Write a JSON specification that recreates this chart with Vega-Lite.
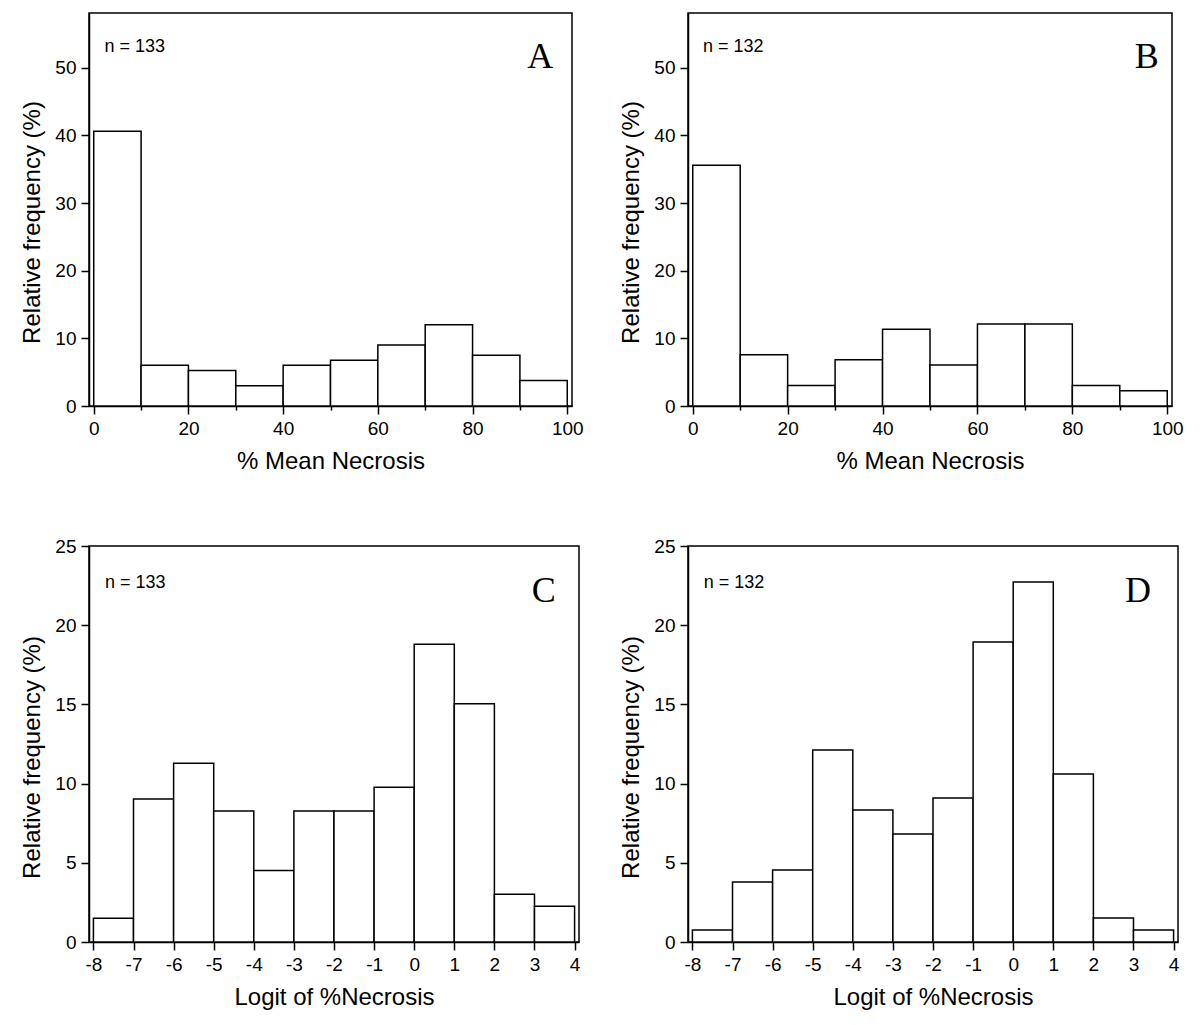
{
  "$schema": "https://vega.github.io/schema/vega-lite/v6.json",
  "background": "white",
  "padding": {"left": 20, "top": 12, "right": 5, "bottom": 5},
  "datasets": {
    "hist": [
      {"panel": "A", "lo": 0, "hi": 10, "freq": 40.60},
      {"panel": "A", "lo": 10, "hi": 20, "freq": 6.02},
      {"panel": "A", "lo": 20, "hi": 30, "freq": 5.26},
      {"panel": "A", "lo": 30, "hi": 40, "freq": 3.01},
      {"panel": "A", "lo": 40, "hi": 50, "freq": 6.02},
      {"panel": "A", "lo": 50, "hi": 60, "freq": 6.77},
      {"panel": "A", "lo": 60, "hi": 70, "freq": 9.02},
      {"panel": "A", "lo": 70, "hi": 80, "freq": 12.03},
      {"panel": "A", "lo": 80, "hi": 90, "freq": 7.52},
      {"panel": "A", "lo": 90, "hi": 100, "freq": 3.76},
      {"panel": "B", "lo": 0, "hi": 10, "freq": 35.61},
      {"panel": "B", "lo": 10, "hi": 20, "freq": 7.58},
      {"panel": "B", "lo": 20, "hi": 30, "freq": 3.03},
      {"panel": "B", "lo": 30, "hi": 40, "freq": 6.82},
      {"panel": "B", "lo": 40, "hi": 50, "freq": 11.36},
      {"panel": "B", "lo": 50, "hi": 60, "freq": 6.06},
      {"panel": "B", "lo": 60, "hi": 70, "freq": 12.12},
      {"panel": "B", "lo": 70, "hi": 80, "freq": 12.12},
      {"panel": "B", "lo": 80, "hi": 90, "freq": 3.03},
      {"panel": "B", "lo": 90, "hi": 100, "freq": 2.27},
      {"panel": "C", "lo": -8, "hi": -7, "freq": 1.50},
      {"panel": "C", "lo": -7, "hi": -6, "freq": 9.02},
      {"panel": "C", "lo": -6, "hi": -5, "freq": 11.28},
      {"panel": "C", "lo": -5, "hi": -4, "freq": 8.27},
      {"panel": "C", "lo": -4, "hi": -3, "freq": 4.51},
      {"panel": "C", "lo": -3, "hi": -2, "freq": 8.27},
      {"panel": "C", "lo": -2, "hi": -1, "freq": 8.27},
      {"panel": "C", "lo": -1, "hi": 0, "freq": 9.77},
      {"panel": "C", "lo": 0, "hi": 1, "freq": 18.80},
      {"panel": "C", "lo": 1, "hi": 2, "freq": 15.04},
      {"panel": "C", "lo": 2, "hi": 3, "freq": 3.01},
      {"panel": "C", "lo": 3, "hi": 4, "freq": 2.26},
      {"panel": "D", "lo": -8, "hi": -7, "freq": 0.76},
      {"panel": "D", "lo": -7, "hi": -6, "freq": 3.79},
      {"panel": "D", "lo": -6, "hi": -5, "freq": 4.55},
      {"panel": "D", "lo": -5, "hi": -4, "freq": 12.12},
      {"panel": "D", "lo": -4, "hi": -3, "freq": 8.33},
      {"panel": "D", "lo": -3, "hi": -2, "freq": 6.82},
      {"panel": "D", "lo": -2, "hi": -1, "freq": 9.09},
      {"panel": "D", "lo": -1, "hi": 0, "freq": 18.94},
      {"panel": "D", "lo": 0, "hi": 1, "freq": 22.73},
      {"panel": "D", "lo": 1, "hi": 2, "freq": 10.61},
      {"panel": "D", "lo": 2, "hi": 3, "freq": 1.52},
      {"panel": "D", "lo": 3, "hi": 4, "freq": 0.76}
    ],
    "notes": [
      {"panel": "A", "n": "n = 133", "letter": "A"},
      {"panel": "B", "n": "n = 132", "letter": "B"},
      {"panel": "C", "n": "n = 133", "letter": "C"},
      {"panel": "D", "n": "n = 132", "letter": "D"}
    ]
  },
  "columns": 2,
  "align": "none",
  "bounds": "flush",
  "spacing": {"column": 109, "row": 140},
  "concat": [
    {
      "width": 483, "height": 393,
      "layer": [
        {
          "data": {"name": "hist"},
          "transform": [{"filter": "datum.panel === 'A'"}],
          "mark": {"type": "rect", "fill": "white", "stroke": "black", "strokeWidth": 1.5},
          "encoding": {
            "x": {"field": "lo", "type": "quantitative", "scale": {"domain": [-1, 101], "nice": false, "zero": false},
              "axis": {"title": "% Mean Necrosis", "values": [0,10,20,30,40,50,60,70,80,90,100],
                "labelExpr": "datum.value % 20 === 0 ? '' + datum.value : ''",
                "tickSize": {"condition": {"test": "datum.value % 20 === 0", "value": 8}, "value": 4}}},
            "x2": {"field": "hi"},
            "y": {"field": "freq", "type": "quantitative", "scale": {"domain": [0, 58.1], "nice": false},
              "axis": {"title": "Relative frequency (%)", "values": [0,5,10,15,20,25,30,35,40,45,50,55],
                "labelExpr": "datum.value % 10 === 0 ? '' + datum.value : ''",
                "tickSize": {"condition": {"test": "datum.value % 10 === 0", "value": 8}, "value": 4},
                "titleY": 209}},
            "y2": {"datum": 0}
          }
        },
        {
          "data": {"name": "notes"},
          "transform": [{"filter": "datum.panel === 'A'"}],
          "mark": {"type": "text", "align": "left", "baseline": "alphabetic", "fontSize": 18, "font": "Liberation Sans", "color": "black"},
          "encoding": {
            "x": {"datum": 2.26, "type": "quantitative"},
            "y": {"datum": 52.4, "type": "quantitative"},
            "text": {"field": "n"}
          }
        },
        {
          "data": {"name": "notes"},
          "transform": [{"filter": "datum.panel === 'A'"}],
          "mark": {"type": "text", "align": "center", "baseline": "alphabetic", "fontSize": 36, "font": "Liberation Serif", "color": "black"},
          "encoding": {
            "x": {"datum": 94.3, "type": "quantitative"},
            "y": {"datum": 50, "type": "quantitative"},
            "text": {"field": "letter"}
          }
        }
      ]
    },
    {
      "width": 484, "height": 393,
      "layer": [
        {
          "data": {"name": "hist"},
          "transform": [{"filter": "datum.panel === 'B'"}],
          "mark": {"type": "rect", "fill": "white", "stroke": "black", "strokeWidth": 1.5},
          "encoding": {
            "x": {"field": "lo", "type": "quantitative", "scale": {"domain": [-1, 101], "nice": false, "zero": false},
              "axis": {"title": "% Mean Necrosis", "values": [0,10,20,30,40,50,60,70,80,90,100],
                "labelExpr": "datum.value % 20 === 0 ? '' + datum.value : ''",
                "tickSize": {"condition": {"test": "datum.value % 20 === 0", "value": 8}, "value": 4}}},
            "x2": {"field": "hi"},
            "y": {"field": "freq", "type": "quantitative", "scale": {"domain": [0, 58.1], "nice": false},
              "axis": {"title": "Relative frequency (%)", "values": [0,5,10,15,20,25,30,35,40,45,50,55],
                "labelExpr": "datum.value % 10 === 0 ? '' + datum.value : ''",
                "tickSize": {"condition": {"test": "datum.value % 10 === 0", "value": 8}, "value": 4},
                "titleY": 209}},
            "y2": {"datum": 0}
          }
        },
        {
          "data": {"name": "notes"},
          "transform": [{"filter": "datum.panel === 'B'"}],
          "mark": {"type": "text", "align": "left", "baseline": "alphabetic", "fontSize": 18, "font": "Liberation Sans", "color": "black"},
          "encoding": {
            "x": {"datum": 2.17, "type": "quantitative"},
            "y": {"datum": 52.4, "type": "quantitative"},
            "text": {"field": "n"}
          }
        },
        {
          "data": {"name": "notes"},
          "transform": [{"filter": "datum.panel === 'B'"}],
          "mark": {"type": "text", "align": "center", "baseline": "alphabetic", "fontSize": 36, "font": "Liberation Serif", "color": "black"},
          "encoding": {
            "x": {"datum": 95.7, "type": "quantitative"},
            "y": {"datum": 50, "type": "quantitative"},
            "text": {"field": "letter"}
          }
        }
      ]
    },
    {
      "width": 490, "height": 396,
      "layer": [
        {
          "data": {"name": "hist"},
          "transform": [{"filter": "datum.panel === 'C'"}],
          "mark": {"type": "rect", "fill": "white", "stroke": "black", "strokeWidth": 1.5},
          "encoding": {
            "x": {"field": "lo", "type": "quantitative", "scale": {"domain": [-8.11, 4.11], "nice": false, "zero": false},
              "axis": {"title": "Logit of %Necrosis", "values": [-8,-7.5,-7,-6.5,-6,-5.5,-5,-4.5,-4,-3.5,-3,-2.5,-2,-1.5,-1,-0.5,0,0.5,1,1.5,2,2.5,3,3.5,4],
                "labelExpr": "datum.value % 1 === 0 ? '' + datum.value : ''",
                "tickSize": {"condition": {"test": "datum.value % 1 === 0", "value": 8}, "value": 4}}},
            "x2": {"field": "hi"},
            "y": {"field": "freq", "type": "quantitative", "scale": {"domain": [0, 25], "nice": false},
              "axis": {"title": "Relative frequency (%)", "values": [0,2.5,5,7.5,10,12.5,15,17.5,20,22.5,25],
                "labelExpr": "datum.value % 5 === 0 ? '' + datum.value : ''",
                "tickSize": {"condition": {"test": "datum.value % 5 === 0", "value": 8}, "value": 4},
                "titleY": 211}},
            "y2": {"datum": 0}
          }
        },
        {
          "data": {"name": "notes"},
          "transform": [{"filter": "datum.panel === 'C'"}],
          "mark": {"type": "text", "align": "left", "baseline": "alphabetic", "fontSize": 18, "font": "Liberation Sans", "color": "black"},
          "encoding": {
            "x": {"datum": -7.71, "type": "quantitative"},
            "y": {"datum": 22.34, "type": "quantitative"},
            "text": {"field": "n"}
          }
        },
        {
          "data": {"name": "notes"},
          "transform": [{"filter": "datum.panel === 'C'"}],
          "mark": {"type": "text", "align": "center", "baseline": "alphabetic", "fontSize": 36, "font": "Liberation Serif", "color": "black"},
          "encoding": {
            "x": {"datum": 3.23, "type": "quantitative"},
            "y": {"datum": 21.48, "type": "quantitative"},
            "text": {"field": "letter"}
          }
        }
      ]
    },
    {
      "width": 490, "height": 396,
      "layer": [
        {
          "data": {"name": "hist"},
          "transform": [{"filter": "datum.panel === 'D'"}],
          "mark": {"type": "rect", "fill": "white", "stroke": "black", "strokeWidth": 1.5},
          "encoding": {
            "x": {"field": "lo", "type": "quantitative", "scale": {"domain": [-8.11, 4.11], "nice": false, "zero": false},
              "axis": {"title": "Logit of %Necrosis", "values": [-8,-7.5,-7,-6.5,-6,-5.5,-5,-4.5,-4,-3.5,-3,-2.5,-2,-1.5,-1,-0.5,0,0.5,1,1.5,2,2.5,3,3.5,4],
                "labelExpr": "datum.value % 1 === 0 ? '' + datum.value : ''",
                "tickSize": {"condition": {"test": "datum.value % 1 === 0", "value": 8}, "value": 4}}},
            "x2": {"field": "hi"},
            "y": {"field": "freq", "type": "quantitative", "scale": {"domain": [0, 25], "nice": false},
              "axis": {"title": "Relative frequency (%)", "values": [0,2.5,5,7.5,10,12.5,15,17.5,20,22.5,25],
                "labelExpr": "datum.value % 5 === 0 ? '' + datum.value : ''",
                "tickSize": {"condition": {"test": "datum.value % 5 === 0", "value": 8}, "value": 4},
                "titleY": 211}},
            "y2": {"datum": 0}
          }
        },
        {
          "data": {"name": "notes"},
          "transform": [{"filter": "datum.panel === 'D'"}],
          "mark": {"type": "text", "align": "left", "baseline": "alphabetic", "fontSize": 18, "font": "Liberation Sans", "color": "black"},
          "encoding": {
            "x": {"datum": -7.72, "type": "quantitative"},
            "y": {"datum": 22.34, "type": "quantitative"},
            "text": {"field": "n"}
          }
        },
        {
          "data": {"name": "notes"},
          "transform": [{"filter": "datum.panel === 'D'"}],
          "mark": {"type": "text", "align": "center", "baseline": "alphabetic", "fontSize": 36, "font": "Liberation Serif", "color": "black"},
          "encoding": {
            "x": {"datum": 3.11, "type": "quantitative"},
            "y": {"datum": 21.48, "type": "quantitative"},
            "text": {"field": "letter"}
          }
        }
      ]
    }
  ],
  "config": {
    "font": "Liberation Sans",
    "view": {"stroke": "black", "strokeWidth": 1.5},
    "axis": {
      "domainColor": "black", "domainWidth": 1.5,
      "tickColor": "black", "tickWidth": 1.5,
      "labelColor": "black", "labelFont": "Liberation Sans", "labelFontSize": 19, "labelPadding": 5,
      "labelFlush": false, "labelOverlap": false,
      "titleFont": "Liberation Sans", "titleFontSize": 24, "titleFontWeight": "normal", "titleColor": "black",
      "grid": false
    },
    "axisX": {"titlePadding": 11},
    "axisY": {"titlePadding": 10}
  }
}
